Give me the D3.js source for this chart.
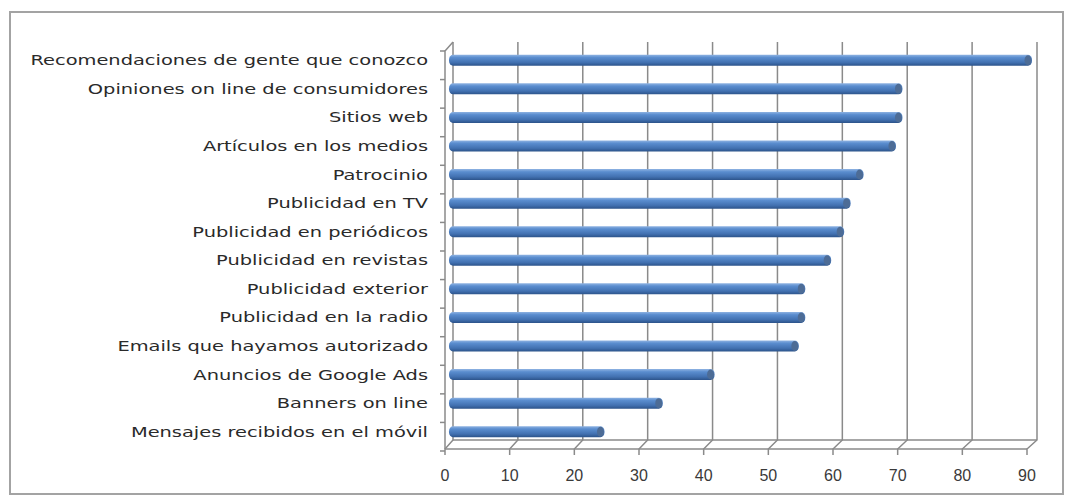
<!DOCTYPE html>
<html>
<head>
<meta charset="utf-8">
<script src="https://d3js.org/d3.v7.min.js"></script>
<style>
  body { margin: 0; background: #fff; }
  .lbl { font-family: "DejaVu Sans", sans-serif; font-size: 14px; fill: #2a2a2a; }
  .tk { font-family: "Liberation Sans", sans-serif; font-size: 16px; fill: #3a3a3a; }
</style>
</head>
<body>
<svg width="1070" height="498"></svg>
<script>
var categories = [
  "Recomendaciones de gente que conozco",
  "Opiniones on line de consumidores",
  "Sitios web",
  "Artículos en los medios",
  "Patrocinio",
  "Publicidad en TV",
  "Publicidad en periódicos",
  "Publicidad en revistas",
  "Publicidad exterior",
  "Publicidad en la radio",
  "Emails que hayamos autorizado",
  "Anuncios de Google Ads",
  "Banners on line",
  "Mensajes recibidos en el móvil"
];
var values = [90, 70, 70, 69, 64, 62, 61, 59, 55, 55, 54, 41, 33, 24];
var ticks = [0, 10, 20, 30, 40, 50, 60, 70, 80, 90];

var svg = d3.select("svg");

// frame
svg.append("rect")
  .attr("x", 10).attr("y", 12)
  .attr("width", 1053).attr("height", 482)
  .attr("fill", "#fff")
  .attr("stroke", "#a3a3a3")
  .attr("stroke-width", 2);

// 3d-ish: back wall and front edge
var xFront = d3.scaleLinear().domain([0, 90]).range([445, 1027]);
var xBack = d3.scaleLinear().domain([0, 90]).range([453, 1037]);
var xBar = d3.scaleLinear().domain([0, 90]).range([449, 1032]);
var y = d3.scaleBand().domain(categories).range([46, 446]).paddingInner(0).paddingOuter(0);

var topBack = 42, floorBack = 440, floorFront = 449, topFront = 51;
var grid = svg.append("g").attr("stroke", "#8a8a8a").attr("stroke-width", 1.5).attr("fill", "none");

ticks.forEach(function(t) {
  grid.append("path")
    .attr("d", "M" + xBack(t) + "," + topBack + "V" + floorBack +
      "L" + xFront(t) + "," + floorFront + "V" + (floorFront + 6));
});
grid.append("line").attr("x1", xBack(0)).attr("x2", xBack(90)).attr("y1", floorBack).attr("y2", floorBack);
grid.append("line").attr("x1", xFront(0)).attr("x2", xFront(90)).attr("y1", floorFront).attr("y2", floorFront);
grid.append("path").attr("d", "M" + xFront(0) + "," + floorFront + "V" + topFront + "L" + xBack(0) + "," + topBack);

// left wall ticks
var bounds = categories.map(function(c) { return y(c); }).concat([y.range()[1]]);
grid.selectAll(".lt").data(bounds).enter().append("line")
  .attr("x1", xFront(0) - 5).attr("x2", xFront(0))
  .attr("y1", function(d) { return d + 5; }).attr("y2", function(d) { return d + 5; });

// bar gradient
var defs = svg.append("defs");
var grad = defs.append("linearGradient").attr("id", "barg")
  .attr("x1", 0).attr("y1", 0).attr("x2", 0).attr("y2", 1);
grad.append("stop").attr("offset", "0%").attr("stop-color", "#8fb3e2");
grad.append("stop").attr("offset", "25%").attr("stop-color", "#5a8dcf");
grad.append("stop").attr("offset", "70%").attr("stop-color", "#4271b1");
grad.append("stop").attr("offset", "100%").attr("stop-color", "#2c538a");

var barH = 11;
var bars = svg.append("g");
bars.selectAll("rect").data(values).enter().append("rect")
  .attr("x", xBar(0))
  .attr("y", function(d, i) { return y(categories[i]) + y.bandwidth() / 2 - barH / 2; })
  .attr("width", function(d) { return xBar(d) - xBar(0); })
  .attr("height", barH)
  .attr("rx", 4).attr("ry", 5)
  .attr("fill", "url(#barg)");
// end caps
bars.selectAll("ellipse").data(values).enter().append("ellipse")
  .attr("cx", function(d) { return xBar(d) - 4; })
  .attr("cy", function(d, i) { return y(categories[i]) + y.bandwidth() / 2; })
  .attr("rx", 3.5).attr("ry", barH / 2 - 0.5)
  .attr("fill", "#4d6c96");

// category labels
var lbls = svg.append("g");
var lg = lbls.selectAll("g").data(categories).enter().append("g");
lg.append("text").attr("class", "lbl")
  .attr("text-anchor", "end")
  .attr("dy", "0.36em")
  .text(function(d) { return d; });
var maxW = 0;
lg.select("text").each(function() { maxW = Math.max(maxW, this.getComputedTextLength()); });
var sx = 398 / maxW;
lg.attr("transform", function(d) {
  return "translate(428," + (y(d) + y.bandwidth() / 2) + ") scale(" + sx + ",1)";
});

// value axis labels
svg.append("g").selectAll("text").data(ticks).enter().append("text")
  .attr("class", "tk")
  .attr("x", function(d) { return xFront(d); })
  .attr("y", 481)
  .attr("text-anchor", "middle")
  .text(function(d) { return d; });
</script>
</body>
</html>
